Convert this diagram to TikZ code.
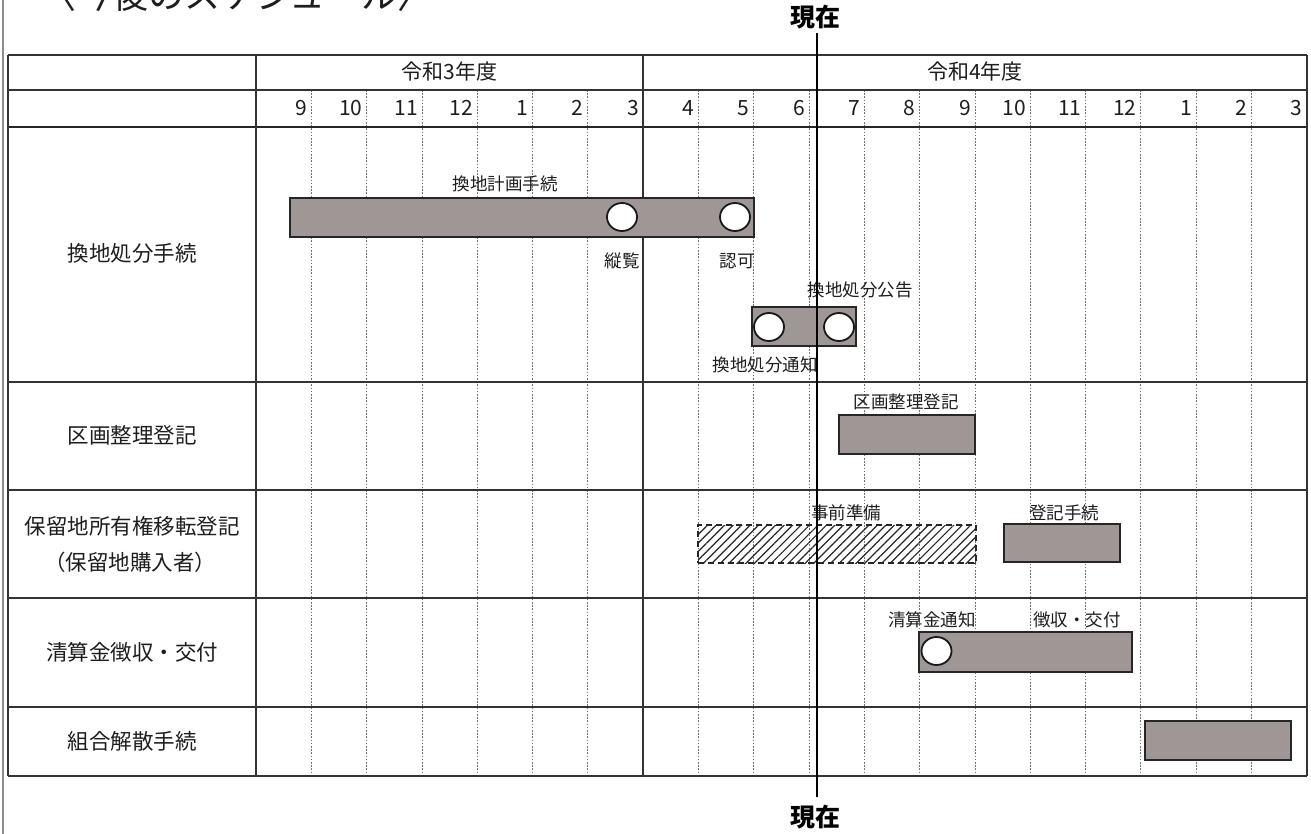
\documentclass[tikz,border=0pt]{standalone}
\usepackage{fontspec}
\setmainfont{Noto Sans CJK JP}
\usetikzlibrary{shapes.geometric,patterns.meta}
\definecolor{barfill}{RGB}{158,151,149}
\definecolor{ink}{RGB}{30,30,30}
\newcommand\fsTitle{\fontsize{36pt}{40pt}\selectfont}
\newcommand\fsRow{\fontsize{21.5pt}{25pt}\selectfont}
\newcommand\fsHead{\fontsize{21pt}{24pt}\selectfont}
\newcommand\fsBar{\fontsize{17.5pt}{21pt}\selectfont}
\newcommand\fsNow{\fontsize{25pt}{28pt}\selectfont\bfseries}
\begin{document}
\begin{tikzpicture}[x=1pt,y=-1pt,
  gridline/.style={draw=black!55, line width=0.8pt, dash pattern=on 1.6pt off 1.6pt},
  rule/.style={draw=black!80, line width=1.2pt},
  thickrule/.style={draw=black!85, line width=2.4pt},
  barbox/.style={draw=black!85, line width=1.8pt, fill=barfill, inner sep=0pt, outer sep=0pt},
  hatchbox/.style={draw=black!85, line width=1.8pt, dash pattern=on 6pt off 4pt,
     pattern={Lines[angle=45, distance=6pt, line width=1.2pt]}, pattern color=black!85,
     inner sep=0pt, outer sep=0pt},
  ring/.style={ellipse, draw=black!90, line width=1.8pt, fill=white, minimum width=30pt, minimum height=28pt, inner sep=0pt},
  rowlabel/.style={font=\fsRow, text=ink, inner sep=0pt},
  headlabel/.style={font=\fsHead, text=ink, inner sep=0pt},
  barlabel/.style={font=\fsBar, text=ink, inner sep=0pt},
  nowlabel/.style={font=\fsNow, text=black, inner sep=0pt},
  nowline/.style={draw=black, line width=2.4pt}
]
\useasboundingbox (0,0) rectangle (1311,834);
\clip (0,0) rectangle (1311,834);
\fill[white] (0,0) rectangle (1311,834);

% left edge gray line
\draw[draw=black!45, line width=2pt] (3,0) -- (3,834);

% title (cut off at top, as in the reference)
\node[anchor=base west, font=\fsTitle, text=ink, inner sep=0pt] (title) at (40,9) {〈今後のスケジュール〉};

% dotted month grid
\foreach \k in {1,...,6,8,9,...,18}
  \draw[gridline] ({256+55.3*\k},90) -- ({256+55.3*\k},776);

% horizontal rules
\draw[rule] (8,55) -- (1307,55);
\draw[rule] (8,90) -- (1307,90);
\draw[thickrule] (8,127) -- (1307,127);
\foreach \yy in {382,490,598,707,776}
  \draw[rule] (8,\yy) -- (1307,\yy);
% vertical rules
\foreach \xx in {8,256,643,1307}
  \draw[rule] (\xx,55) -- (\xx,776);

% header
\node[headlabel] (fy3) at (449.5,72) {令和3年度};
\node[headlabel] (fy4) at (975,72) {令和4年度};
\foreach \m [count=\i] in {9,10,11,12,1,2,3,4,5,6,7,8,9,10,11,12,1,2,3}
  \node[headlabel, anchor=east] (mon\i) at ({256+55.3*\i-4},108) {\m};

% row labels
\node[rowlabel] (r1) at (132,253) {換地処分手続};
\node[rowlabel] (r2) at (132,435) {区画整理登記};
\node[rowlabel] (r3a) at (132,526) {保留地所有権移転登記};
\node[rowlabel] (r3b) at (130,562) {（保留地購入者）};
\node[rowlabel] (r4) at (132,652) {清算金徴収・交付};
\node[rowlabel] (r5) at (132,741) {組合解散手続};

% bars
\node[barbox, minimum width=464pt, minimum height=39pt] (plan) at (522,217.5) {};
\node[ring] (kanran) at (622,217) {};
\node[ring] (ninka) at (735,217) {};
\node[barlabel] (planlbl) at (505,184) {換地計画手続};
\node[barlabel] (kanranlbl) at (622,261) {縦覧};
\node[barlabel] (ninkalbl) at (737,261) {認可};

\node[barbox, minimum width=104pt, minimum height=39pt] (shobun) at (804,326.5) {};
\node[ring] (tsuchi) at (769,327) {};
\node[ring] (kokoku) at (839,327) {};
\node[barlabel] (kokokulbl) at (860,290) {換地処分公告};
\node[barlabel] (tsuchilbl) at (765,365) {換地処分通知};

\node[barbox, minimum width=136pt, minimum height=39pt] (kukaku) at (907,434.5) {};
\node[barlabel] (kukakulbl) at (906,402) {区画整理登記};

\node[hatchbox, minimum width=278pt, minimum height=38pt] (junbi) at (837,544) {};
\node[barlabel] (junbilbl) at (846,513) {事前準備};
\node[barbox, minimum width=116pt, minimum height=38pt] (toki) at (1062,543) {};
\node[barlabel] (tokilbl) at (1064,513) {登記手続};

\node[barbox, minimum width=213pt, minimum height=40pt] (seisan) at (1025.5,652) {};
\node[ring] (seisantsuchi) at (936.5,651) {};
\node[barlabel] (seisantsuchilbl) at (932,620) {清算金通知};
\node[barlabel] (choshulbl) at (1077,620) {徴収・交付};

\node[barbox, minimum width=146pt, minimum height=39pt] (kaisan) at (1218,740.5) {};

% now line
\node[nowlabel] (nowtop) at (815,17) {現在};
\node[nowlabel] (nowbot) at (815,817) {現在};
\coordinate (nowA) at (817,33);
\coordinate (nowB) at (817,797);
\draw[nowline] (nowA) -- (nowB);
\end{tikzpicture}
\end{document}
